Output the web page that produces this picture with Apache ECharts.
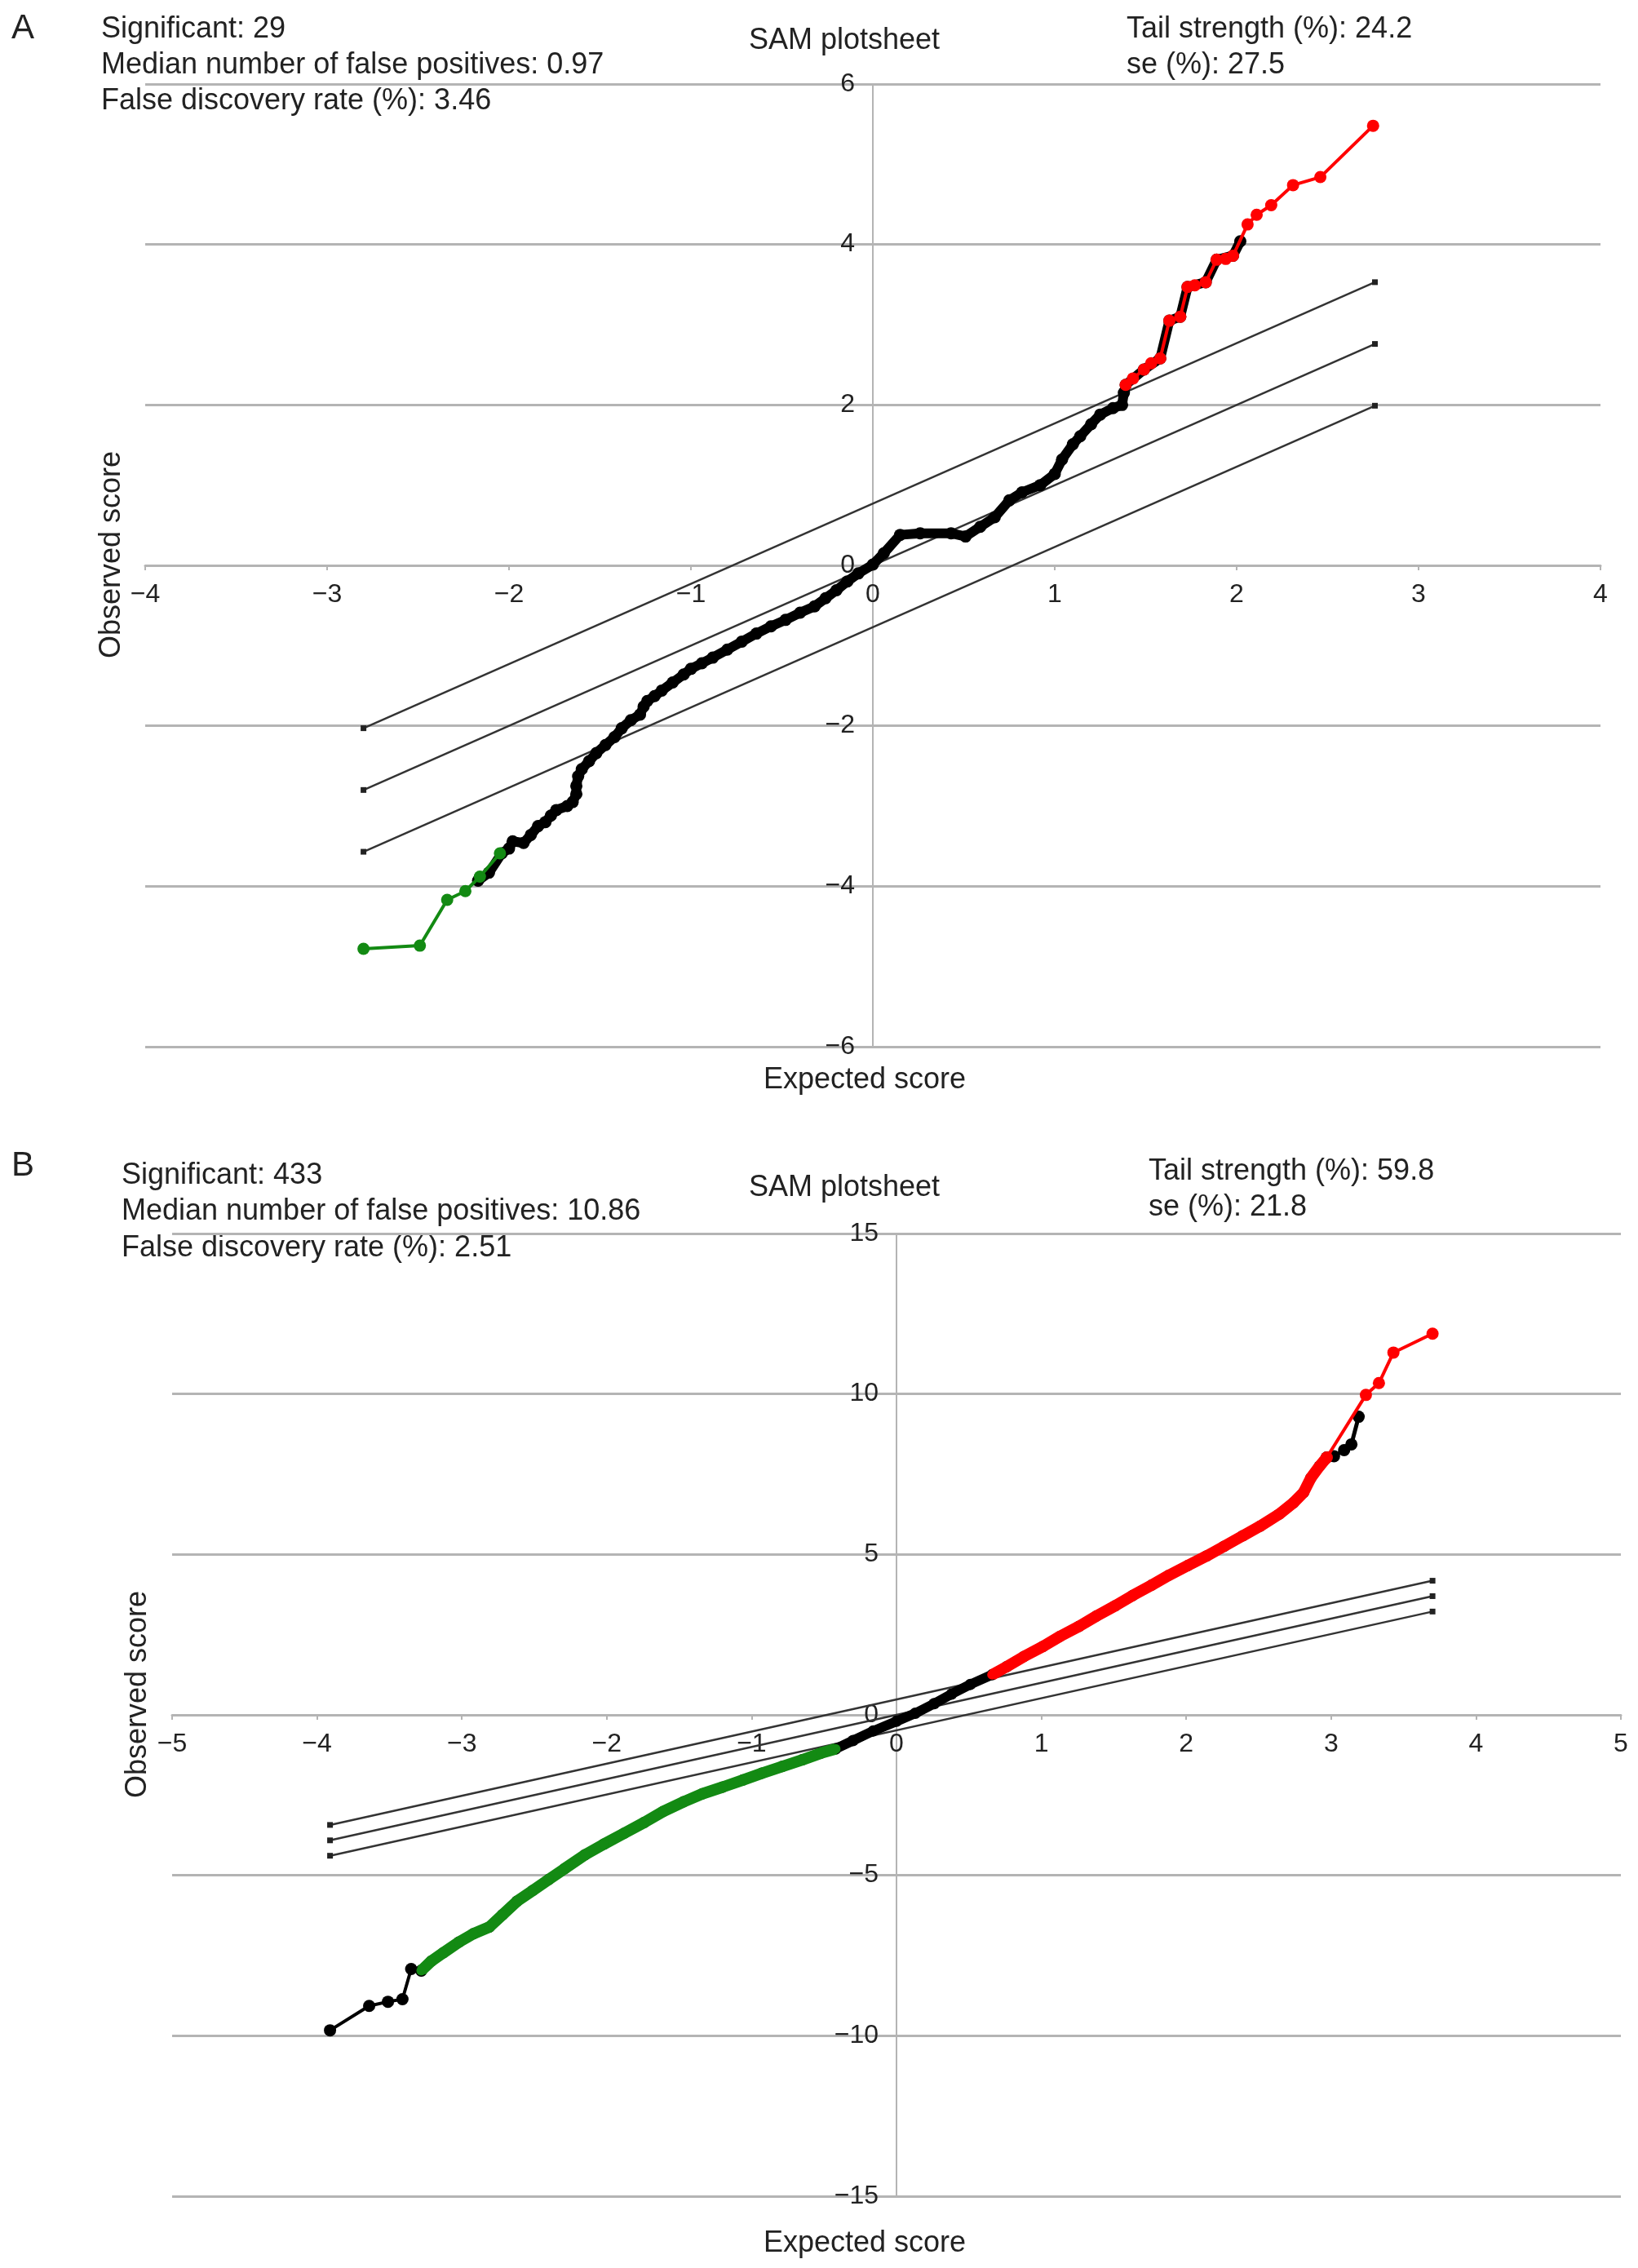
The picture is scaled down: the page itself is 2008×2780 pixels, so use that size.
<!DOCTYPE html>
<html>
<head>
<meta charset="utf-8">
<script src="https://cdn.jsdelivr.net/npm/echarts@6/dist/echarts.min.js"></script>
<style>
  html, body { margin: 0; padding: 0; background: #fff; }
  #main { width: 2008px; height: 2780px; }
</style>
</head>
<body>
<div id="main"></div>
<script>
// ---- panel A data (expected score, observed score) ----
var blackA = [
    [-2.17, -3.93], [-2.11, -3.83], [-2.04, -3.59], [-2.00, -3.53], [-1.98, -3.44],
    [-1.92, -3.46], [-1.88, -3.36], [-1.84, -3.25], [-1.80, -3.20], [-1.77, -3.12],
    [-1.74, -3.05], [-1.68, -3.00], [-1.65, -2.95], [-1.63, -2.85], [-1.63, -2.75],
    [-1.62, -2.63], [-1.60, -2.54], [-1.56, -2.44], [-1.52, -2.34], [-1.47, -2.24],
    [-1.42, -2.14], [-1.38, -2.03], [-1.33, -1.93], [-1.28, -1.86], [-1.26, -1.76],
    [-1.24, -1.69], [-1.20, -1.63], [-1.16, -1.56], [-1.10, -1.46], [-1.04, -1.36],
    [-1.00, -1.29], [-0.94, -1.22], [-0.88, -1.15], [-0.80, -1.05], [-0.72, -0.95],
    [-0.64, -0.85], [-0.56, -0.76], [-0.48, -0.68], [-0.40, -0.59], [-0.32, -0.51],
    [-0.26, -0.41], [-0.20, -0.31], [-0.14, -0.20], [-0.08, -0.10], [0.00, 0.01],
    [0.06, 0.15], [0.15, 0.38], [0.26, 0.40], [0.43, 0.40], [0.51, 0.36],
    [0.59, 0.48], [0.67, 0.60], [0.75, 0.81], [0.82, 0.91], [0.92, 1.00],
    [1.00, 1.14], [1.04, 1.32], [1.10, 1.51], [1.14, 1.61], [1.20, 1.76],
    [1.25, 1.88], [1.32, 1.96], [1.37, 2.00], [1.38, 2.15], [1.39, 2.25],
    [1.49, 2.44], [1.58, 2.58], [1.63, 3.05], [1.69, 3.10], [1.73, 3.47],
    [1.83, 3.53], [1.89, 3.81], [1.98, 3.86], [2.02, 4.04]
];
var redA = [
    [1.39, 2.25], [1.43, 2.33], [1.49, 2.44], [1.53, 2.52], [1.58, 2.58],
    [1.63, 3.05], [1.69, 3.10], [1.73, 3.47], [1.77, 3.49], [1.83, 3.53],
    [1.89, 3.81], [1.94, 3.82], [1.98, 3.86], [2.06, 4.25], [2.11, 4.37],
    [2.19, 4.49], [2.31, 4.74], [2.46, 4.84], [2.75, 5.48]
];
var greenA = [
    [-2.80, -4.78], [-2.49, -4.74], [-2.34, -4.17], [-2.24, -4.06], [-2.16, -3.88], [-2.05, -3.59]
];
var upperA = [[-2.80, -2.03], [2.76, 3.53]];
var middleA = [[-2.80, -2.80], [2.76, 2.76]];
var lowerA = [[-2.80, -3.57], [2.76, 1.99]];

// ---- panel B data ----
var blackLowB = [
    [-3.91, -9.83], [-3.64, -9.07], [-3.51, -8.94], [-3.41, -8.86], [-3.35, -7.92], [-3.28, -7.97]
];
var greenB = [
    [-3.28, -7.97], [-3.21, -7.67], [-3.13, -7.42], [-3.02, -7.08], [-2.92, -6.82],
    [-2.81, -6.61], [-2.72, -6.23], [-2.62, -5.81], [-2.51, -5.47], [-2.40, -5.13],
    [-2.29, -4.79], [-2.15, -4.36], [-2.02, -4.03], [-1.88, -3.69], [-1.74, -3.35],
    [-1.61, -3.01], [-1.47, -2.71], [-1.34, -2.46], [-1.20, -2.25], [-1.06, -2.03],
    [-0.93, -1.82], [-0.79, -1.61], [-0.65, -1.40], [-0.52, -1.19], [-0.42, -1.06]
];
var blackMidB = [
    [-0.30, -0.80], [-0.16, -0.50], [0.00, -0.20], [0.13, 0.05], [0.26, 0.35],
    [0.38, 0.65], [0.51, 0.95]
];
var redBandB = [
    [0.66, 1.25], [0.76, 1.50], [0.88, 1.82], [1.01, 2.13], [1.13, 2.45],
    [1.26, 2.76], [1.38, 3.08], [1.51, 3.40], [1.63, 3.72], [1.76, 4.04],
    [1.88, 4.35], [2.01, 4.65], [2.14, 4.95], [2.26, 5.25], [2.39, 5.58],
    [2.51, 5.88], [2.64, 6.25], [2.74, 6.61], [2.81, 6.93], [2.86, 7.38],
    [2.92, 7.75], [2.97, 8.02]
];
var blackUpB = [[2.97, 8.02], [3.02, 8.06], [3.09, 8.25], [3.14, 8.43], [3.19, 9.29]];
var redTailB = [[2.97, 8.02], [3.24, 9.97], [3.33, 10.34], [3.43, 11.29], [3.70, 11.88]];
var upperB = [[-3.91, -3.43], [3.70, 4.18]];
var middleB = [[-3.91, -3.91], [3.70, 3.70]];
var lowerB = [[-3.91, -4.39], [3.70, 3.22]];

var statsA = ['Significant: 29', 'Median number of false positives: 0.97', 'False discovery rate (%): 3.46'];
var tailA = ['Tail strength (%): 24.2', 'se (%): 27.5'];
var statsB = ['Significant: 433', 'Median number of false positives: 10.86', 'False discovery rate (%): 2.51'];
var tailB = ['Tail strength (%): 59.8', 'se (%): 21.8'];

var FONT = '"Liberation Sans", Arial, Helvetica, sans-serif';
var RED = '#ff0000';
var GREEN = '#138a13';

// grid boxes; the axes are shifted onto the zero lines with offsets
var gridA = {left: 178, top: 103, width: 1784, height: 1180};
var gridB = {left: 211, top: 1512, width: 1776, height: 1180};

var chart = echarts.init(document.getElementById('main'));

function minus(v) {
    return String(v).replace('-', '\u2212');
}

function xAxisFor(idx, min, max, offset) {
    return {
        gridIndex: idx, type: 'value', min: min, max: max, interval: 1,
        position: 'bottom', offset: offset,
        axisLine: {onZero: false, lineStyle: {color: '#b4b4b4', width: 3}},
        axisTick: {show: true, length: 6, lineStyle: {color: '#b4b4b4', width: 2}},
        axisLabel: {margin: 20, fontSize: 32, color: '#222', fontFamily: FONT, formatter: minus},
        splitLine: {show: false}
    };
}

function yAxisFor(idx, min, max, step, offset) {
    return {
        gridIndex: idx, type: 'value', min: min, max: max, interval: step,
        position: 'left', offset: offset,
        axisLine: {onZero: false, lineStyle: {color: '#b4b4b4', width: 2}},
        axisTick: {show: false},
        axisLabel: {margin: 22, fontSize: 32, color: '#222', fontFamily: FONT, formatter: minus},
        splitLine: {show: true, lineStyle: {color: '#b4b4b4', width: 3}}
    };
}

function refLine(data, idx) {
    return {
        type: 'line', xAxisIndex: idx, yAxisIndex: idx, data: data,
        symbol: 'rect', symbolSize: 7, z: 2,
        lineStyle: {color: '#333', width: 2.5}, itemStyle: {color: '#222'}
    };
}

function curve(data, idx, color, width, size, z) {
    return {
        type: 'line', xAxisIndex: idx, yAxisIndex: idx, data: data,
        symbol: 'circle', symbolSize: size, showSymbol: true, z: z,
        lineStyle: {color: color, width: width}, itemStyle: {color: color}
    };
}

function textEl(text, x, y, opts) {
    opts = opts || {};
    return {
        type: 'text', x: x, y: y, rotation: opts.rotation || 0, silent: true,
        style: {
            text: text, fill: '#222',
            fontSize: opts.size || 36, fontFamily: FONT,
            align: opts.align || 'left', verticalAlign: 'middle'
        }
    };
}

var graphics = [
    textEl('A', 14, 35, {size: 42}),
    textEl('SAM plotsheet', 1035, 50, {align: 'center'}),
    textEl('Observed score', 137, 680, {align: 'center', rotation: Math.PI / 2}),
    textEl('Expected score', 1060, 1324, {align: 'center'}),
    textEl('B', 14, 1429, {size: 42}),
    textEl('SAM plotsheet', 1035, 1456, {align: 'center'}),
    textEl('Observed score', 169, 2077, {align: 'center', rotation: Math.PI / 2}),
    textEl('Expected score', 1060, 2750, {align: 'center'})
];
statsA.forEach(function (t, i) { graphics.push(textEl(t, 124, 36 + i * 44)); });
tailA.forEach(function (t, i) { graphics.push(textEl(t, 1381, 36 + i * 44)); });
statsB.forEach(function (t, i) { graphics.push(textEl(t, 149, 1441 + i * 44.5)); });
tailB.forEach(function (t, i) { graphics.push(textEl(t, 1408, 1436 + i * 44.5)); });

chart.setOption({
    animation: false,
    backgroundColor: '#fff',
    grid: [gridA, gridB],
    // offset = distance from the grid edge to the zero line (negative = inward)
    xAxis: [xAxisFor(0, -4, 4, -gridA.height / 2), xAxisFor(1, -5, 5, -gridB.height / 2)],
    yAxis: [yAxisFor(0, -6, 6, 2, -gridA.width / 2), yAxisFor(1, -15, 15, 5, -gridB.width / 2)],
    graphic: graphics,
    series: [
        refLine(upperA, 0), refLine(middleA, 0), refLine(lowerA, 0),
        curve(blackA, 0, '#000', 12, 15, 3),
        curve(greenA, 0, GREEN, 4, 15, 4),
        curve(redA, 0, RED, 4, 15, 4),

        refLine(upperB, 1), refLine(middleB, 1), refLine(lowerB, 1),
        curve(blackLowB, 1, '#000', 4, 15, 3),
        curve(greenB.concat(blackMidB, redBandB), 1, '#000', 12, 14, 3),
        curve(blackUpB, 1, '#000', 5, 15, 3),
        curve(greenB, 1, GREEN, 14, 12, 4),
        curve(redBandB, 1, RED, 14, 12, 4),
        curve(redTailB, 1, RED, 4, 15, 4)
    ]
});
</script>
</body>
</html>
